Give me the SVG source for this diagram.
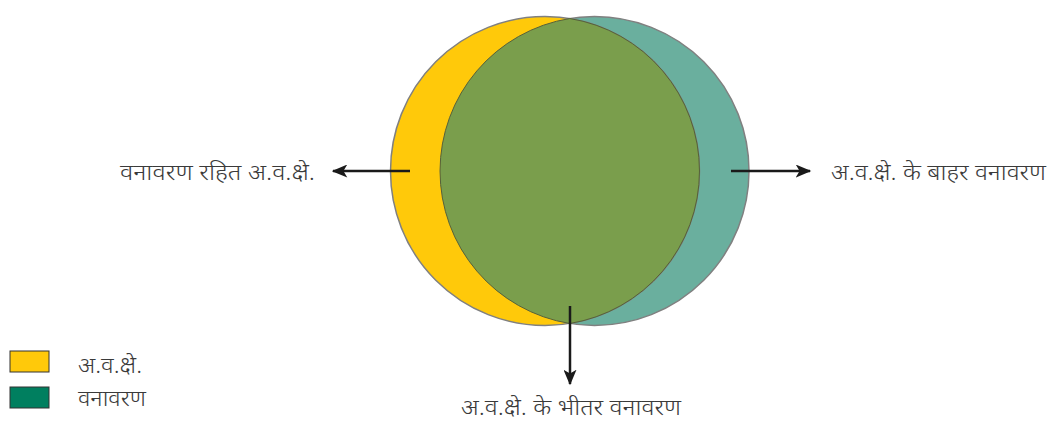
<svg xmlns="http://www.w3.org/2000/svg" width="1051" height="421" viewBox="0 0 1051 421">
<defs>
<style>
text{font-family:"Noto Sans","Noto Sans Devanagari","Lohit Devanagari","FreeSans",sans-serif;font-size:23px;fill:#3a3a3a;font-weight:300}
.conn{stroke:#1a1a1a;stroke-width:2.5;fill:none}
</style>
<marker id="ah2" viewBox="0 0 12 10" refX="11" refY="5" markerWidth="16" markerHeight="13" orient="auto" markerUnits="userSpaceOnUse">
<path d="M0,0 L12,5 L0,10 L3,5 z" fill="#1a1a1a"/>
</marker>
</defs>
<rect width="1051" height="421" fill="#fff"/>
<g id="forest-cover">
<circle cx="594.5" cy="171" r="154.5" fill="#6AAF9E" stroke="#808080" stroke-width="1.5"/>
</g>
<g id="protected-area">
<circle cx="545" cy="171" r="154.5" fill="#FFC90A" stroke="#808080" stroke-width="1.5"/>
</g>
<g id="intersection">
<path d="M569.75,18.5 A154.5,154.5 0 0 1 569.75,323.5 A154.5,154.5 0 0 1 569.75,18.5 Z" fill="#7A9E4C" stroke="#55613a" stroke-width="1"/>
</g>
<g id="connectors">
<line class="conn" x1="410" y1="171" x2="333" y2="171" marker-end="url(#ah2)"/>
<line class="conn" x1="731" y1="171" x2="810" y2="171" marker-end="url(#ah2)"/>
<line class="conn" x1="570" y1="306" x2="570" y2="384" marker-end="url(#ah2)"/>
</g>
<g id="label-left">
<text x="120" y="180" textLength="195" lengthAdjust="spacingAndGlyphs">वनावरण रहित अ.व.क्षे.</text>
</g>
<g id="label-right">
<text x="831" y="180" textLength="215" lengthAdjust="spacingAndGlyphs">अ.व.क्षे. के बाहर वनावरण</text>
</g>
<g id="label-bottom">
<text x="461" y="415" textLength="220" lengthAdjust="spacingAndGlyphs">अ.व.क्षे. के भीतर वनावरण</text>
</g>
<g id="legend">
<rect x="10" y="351" width="39" height="21" fill="#FFC90A" stroke="#333" stroke-width="1"/>
<rect x="10" y="387" width="39" height="21" fill="#007F5F" stroke="#333" stroke-width="1"/>
<text x="78" y="373" textLength="64" lengthAdjust="spacingAndGlyphs">अ.व.क्षे.</text>
<text x="78" y="406" textLength="68" lengthAdjust="spacingAndGlyphs">वनावरण</text>
</g>
</svg>
